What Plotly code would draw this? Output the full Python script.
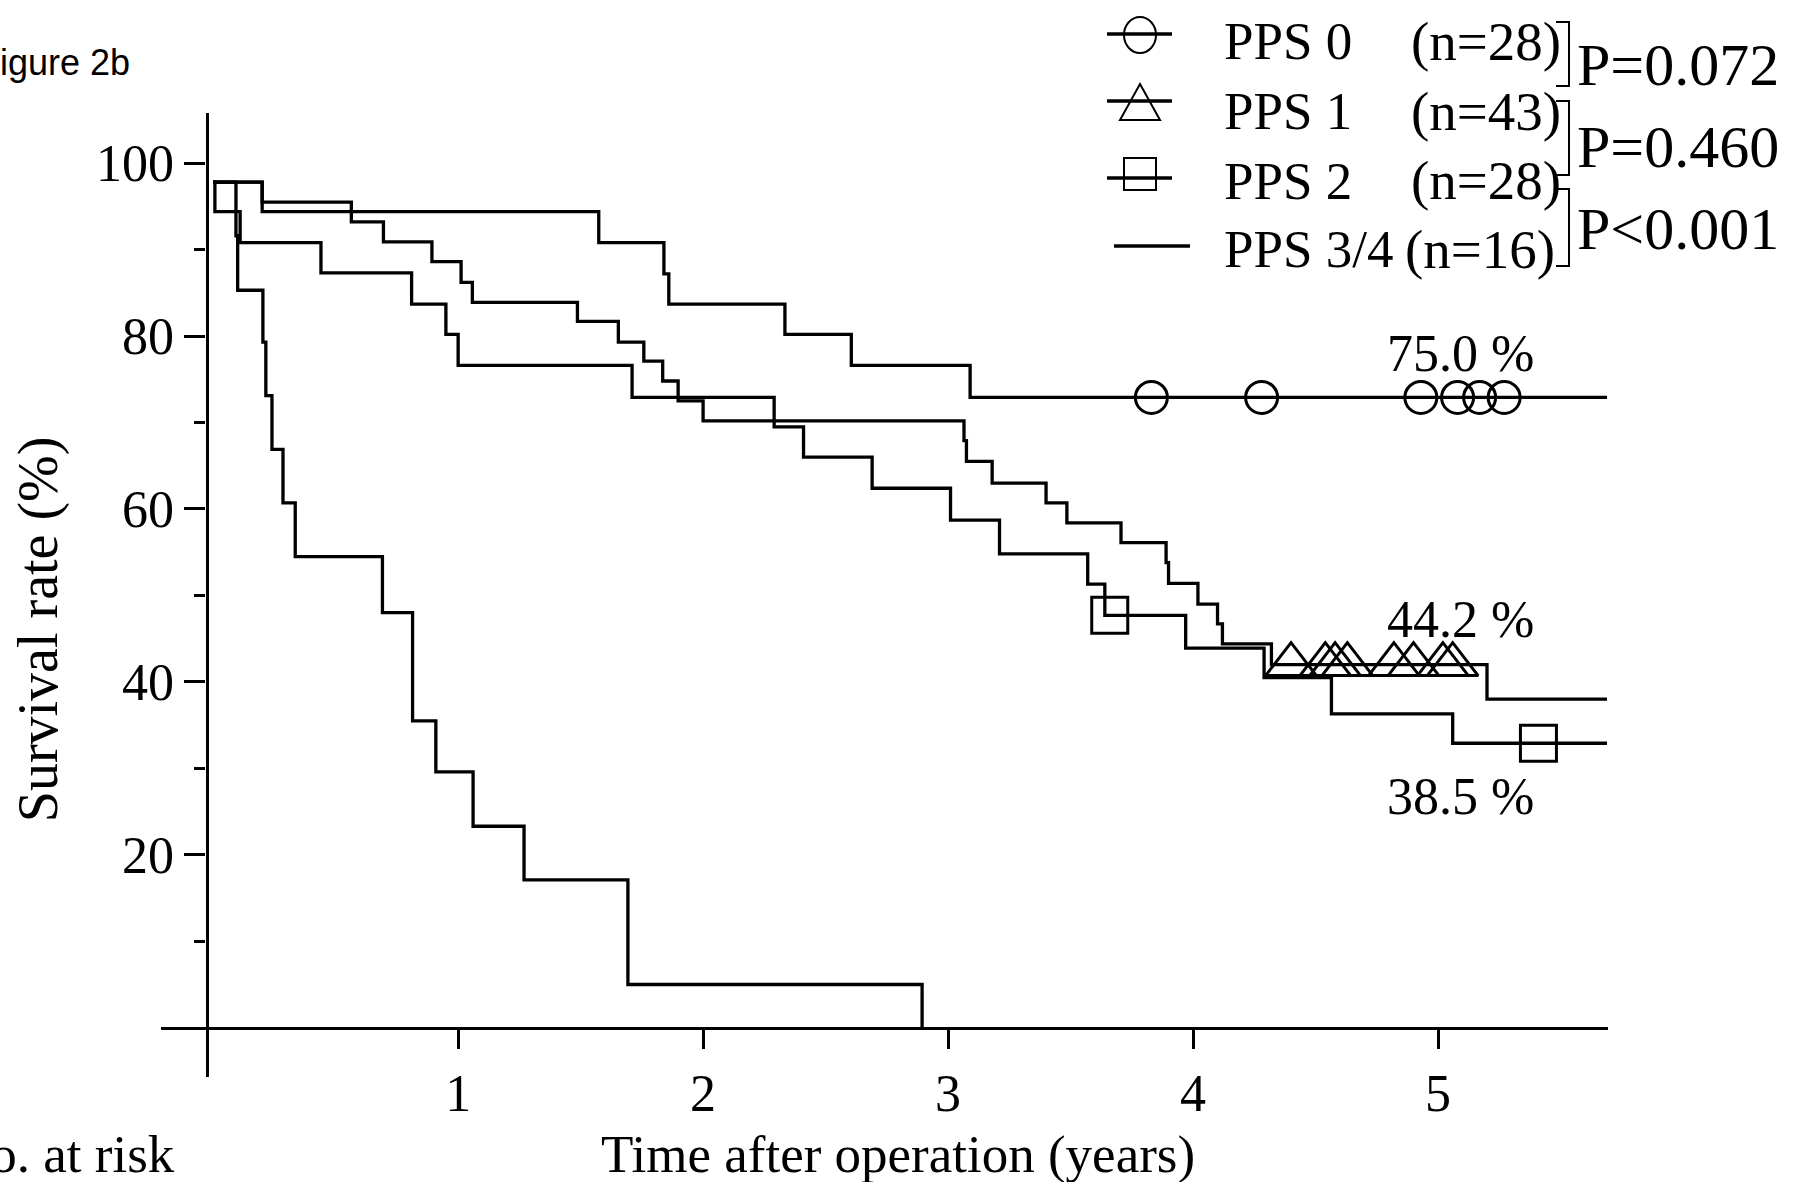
import plotly.graph_objects as go

# ---------------- data ----------------
groups = ["PPS 0", "PPS 1", "PPS 2", "PPS 3/4"]
n_labels = ["(n=28)", "(n=43)", "(n=28)", "(n=16)"]
p_values = ["P=0.072", "P=0.460", "P<0.001"]
pct_labels = ["75.0 %", "44.2 %", "38.5 %"]

pps0_time = [0, 0.20, 1.574, 1.84, 1.86, 2.334, 2.605, 3.09, 5.69]
pps0_surv = [97.8, 94.4, 90.8, 87.2, 83.7, 80.2, 76.6, 72.9, 72.9]
pps0_cens = [3.83, 4.28, 4.93, 5.08, 5.17, 5.27]

pps1_time = [0, 0.20, 0.564, 0.695, 0.893, 1.012, 1.058, 1.487, 1.654, 1.758,
             1.835, 1.898, 2.00, 3.065, 3.075, 3.18, 3.40, 3.485, 3.706, 3.89,
             3.90, 4.02, 4.10, 4.12, 4.32, 5.20, 5.69]
pps1_surv = [97.8, 95.5, 93.2, 90.9, 88.6, 86.2, 83.9, 81.7, 79.3, 77.1,
             74.8, 72.5, 70.2, 67.9, 65.5, 63.0, 60.7, 58.4, 56.1, 53.8,
             51.4, 49.0, 46.7, 44.4, 42.0, 38.0, 38.0]
pps1_cens = [4.40, 4.54, 4.58, 4.63, 4.82, 4.90, 5.02, 5.06]

pps2_time = [0, 0.007, 0.11, 0.44, 0.81, 0.95, 1.00, 1.71, 2.29, 2.41,
             2.69, 3.01, 3.21, 3.57, 3.64, 3.97, 4.29, 4.565, 5.06, 5.69]
pps2_surv = [97.8, 94.4, 90.8, 87.3, 83.7, 80.2, 76.6, 72.9, 69.5, 66.0,
             62.4, 58.7, 54.8, 51.3, 47.7, 43.9, 40.5, 36.3, 32.9, 32.9]
pps2_cens = [3.66, 5.41]

pps34_time = [0, 0.093, 0.10, 0.203, 0.215, 0.24, 0.285, 0.335, 0.691, 0.814,
              0.909, 1.061, 1.269, 1.693, 2.894]
pps34_surv = [97.8, 91.6, 85.3, 79.3, 73.1, 66.9, 60.7, 54.5, 48.0, 35.5,
              29.6, 23.3, 17.1, 5.0, 0.0]

x_tickvals = [1, 2, 3, 4, 5]
y_tickvals = [20, 40, 60, 80, 100]
y_minorvals = [10, 30, 50, 70, 90]

# ---------------- layout geometry ----------------
W, H = 1794, 1182
ML, MR, MT, MB = 161, 186, 113, 105
X_RANGE = [-0.213, 5.694]
Y_RANGE = [-5.7, 105.8]
X_AXIS_AT_Y = 0.0      # the x-axis line crosses the y axis here
Y_AXIS_AT_X = -0.027   # the y-axis line crosses the x axis here

PW, PH = W - ML - MR, H - MT - MB


def px_x(px):
    return (px - ML) / PW


def px_y(py):
    return (H - MB - py) / PH


def step_value(times, survs, t):
    v = survs[0]
    for tt, ss in zip(times, survs):
        if tt <= t:
            v = ss
    return v


SERIF = "Liberation Serif, Times New Roman, serif"
BLACK = "black"
LW = 3.3

fig = go.Figure()

series = [
    (groups[0], pps0_time, pps0_surv, pps0_cens, "circle-open", 32),
    (groups[1], pps1_time, pps1_surv, pps1_cens, "triangle-up-open", 44),
    (groups[2], pps2_time, pps2_surv, pps2_cens, "square-open", 36),
    (groups[3], pps34_time, pps34_surv, [], None, 0),
]

for name, t, s, cens, sym, msize in series:
    fig.add_trace(go.Scatter(
        x=t, y=s, mode="lines", name=name, showlegend=False,
        line=dict(color=BLACK, width=LW, shape="hv"),
        hoverinfo="x+y+name",
    ))
    if cens:
        fig.add_trace(go.Scatter(
            x=cens, y=[step_value(t, s, c) for c in cens], mode="markers",
            name=name + " censored", showlegend=False,
            marker=dict(symbol=sym, size=msize, color=BLACK,
                        line=dict(color=BLACK, width=3)),
        ))

# ---------------- axes ----------------
fig.update_xaxes(
    range=X_RANGE, domain=[0, 1], anchor="free",
    position=(X_AXIS_AT_Y - Y_RANGE[0]) / (Y_RANGE[1] - Y_RANGE[0]),
    showline=True, linecolor=BLACK, linewidth=LW,
    ticks="outside", ticklen=19, tickwidth=LW, tickcolor=BLACK,
    tickmode="array", tickvals=x_tickvals, ticktext=[str(v) for v in x_tickvals],
    tickfont=dict(family=SERIF, size=52, color=BLACK),
    showgrid=False, zeroline=False,
)
fig.update_yaxes(
    range=Y_RANGE, domain=[0, 1], anchor="free",
    position=(Y_AXIS_AT_X - X_RANGE[0]) / (X_RANGE[1] - X_RANGE[0]),
    showline=True, linecolor=BLACK, linewidth=LW,
    ticks="outside", ticklen=21, tickwidth=LW, tickcolor=BLACK,
    tickmode="array", tickvals=y_tickvals, ticktext=[str(v) for v in y_tickvals],
    tickfont=dict(family=SERIF, size=52, color=BLACK),
    minor=dict(tickmode="array", tickvals=y_minorvals, ticks="outside",
               ticklen=11, tickwidth=LW, tickcolor=BLACK, showgrid=False),
    showgrid=False, zeroline=False,
)

annotations = []
shapes = []


def text(px, py, s, size, xanchor="center", family=SERIF, angle=0):
    annotations.append(dict(
        x=px_x(px), y=px_y(py), xref="paper", yref="paper", text=s,
        showarrow=False, xanchor=xanchor, yanchor="middle", textangle=angle,
        font=dict(family=family, size=size, color=BLACK),
    ))


# titles and labels
text(898, 1154, "Time after operation (years)", 53)
text(38, 550 * 1.1441, "Survival rate (%)", 56, angle=-90)
text(177, 1154, "No. at risk", 53, xanchor="right")
text(132, 63, "Figure 2b", 36, xanchor="right", family="Liberation Sans, Arial, sans-serif")

# percentage labels near the curves
for lab, py in zip(pct_labels, [353, 619, 797]):
    text(1460, py, lab, 52)

# ---------------- custom legend ----------------
row_text_y = [41, 111, 181, 249]
row_line_y = [34, 101, 178, 246]
for i, (g, n) in enumerate(zip(groups, n_labels)):
    text(1222, row_text_y[i], g, 53, xanchor="left")
    text(1409 if i < 3 else 1403, row_text_y[i], n, 55, xanchor="left")
    x0, x1 = (1107, 1172) if i < 3 else (1114, 1190)
    shapes.append(dict(type="line", xref="paper", yref="paper",
                       x0=px_x(x0), x1=px_x(x1), y0=px_y(row_line_y[i]), y1=px_y(row_line_y[i]),
                       line=dict(color=BLACK, width=LW)))

leg_lw = 2
LCX = 1140
# circle
shapes.append(dict(type="circle", xref="paper", yref="paper",
                   x0=px_x(LCX - 16), x1=px_x(LCX + 16), y0=px_y(53), y1=px_y(17),
                   line=dict(color=BLACK, width=leg_lw)))
# triangle
tri = [(LCX, 84), (LCX + 20, 120), (LCX - 20, 120)]
shapes.append(dict(type="path", xref="paper", yref="paper",
                   path="M{},{} L{},{} L{},{} Z".format(
                       px_x(tri[0][0]), px_y(tri[0][1]), px_x(tri[1][0]), px_y(tri[1][1]),
                       px_x(tri[2][0]), px_y(tri[2][1])),
                   line=dict(color=BLACK, width=leg_lw)))
# square
shapes.append(dict(type="rect", xref="paper", yref="paper",
                   x0=px_x(LCX - 16), x1=px_x(LCX + 16), y0=px_y(190), y1=px_y(158),
                   line=dict(color=BLACK, width=leg_lw)))

# brackets with p-values
brackets = [(22, 86), (101, 175), (189, 266)]
p_y = [65, 147, 229]
for (ytop, ybot), pv, py in zip(brackets, p_values, p_y):
    shapes.append(dict(type="path", xref="paper", yref="paper",
                       path="M{},{} L{},{} L{},{} L{},{}".format(
                           px_x(1556), px_y(ytop), px_x(1569), px_y(ytop),
                           px_x(1569), px_y(ybot), px_x(1556), px_y(ybot)),
                       line=dict(color=BLACK, width=2)))
    text(1575, py, pv, 60, xanchor="left")

fig.update_layout(
    width=W, height=H, autosize=False,
    margin=dict(l=ML, r=MR, t=MT, b=MB, pad=0),
    paper_bgcolor="white", plot_bgcolor="white",
    template="none", showlegend=False,
    annotations=annotations, shapes=shapes,
    font=dict(family=SERIF, color=BLACK),
)

# remove the browser's default 8px body margin so the figure sits at the page origin
fig.write_html("out.html",
               config={"displayModeBar": False},
               post_script="document.body.style.margin='0';document.body.style.overflow='hidden';")
